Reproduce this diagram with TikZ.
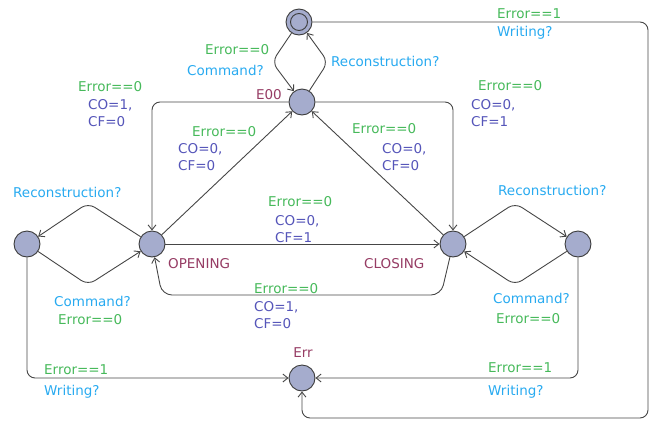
\documentclass[tikz,border=0pt]{standalone}
\usepackage{fontspec}
\setmainfont{DejaVu Sans}
\usetikzlibrary{arrows.meta}
\definecolor{guardc}{RGB}{70,185,90}
\definecolor{syncc}{RGB}{40,170,240}
\definecolor{assignc}{RGB}{85,85,185}
\definecolor{namec}{RGB}{150,60,100}
\definecolor{locfill}{RGB}{165,172,205}
\definecolor{locdraw}{RGB}{60,60,60}
\definecolor{edgec}{RGB}{70,70,70}
\tikzset{
  loc/.style={circle, draw=locdraw, fill=locfill, line width=0.9pt, minimum size=26pt, inner sep=0pt},
  initloc/.style={loc, path picture={\draw[locdraw, line width=0.9pt] (path picture bounding box.center) circle (8.5pt);}},
  lbl/.style={font=\fontsize{13.5}{17}\selectfont, inner sep=0pt, anchor=west, align=left},
  guard/.style={lbl, text=guardc},
  sync/.style={lbl, text=syncc},
  assign/.style={lbl, text=assignc},
  locname/.style={lbl, text=namec},
  arr/.style={-{Straight Barb[length=5pt, width=8pt]}, line width=0.9pt, edgec, rounded corners=8pt},
}

\begin{document}
\begin{tikzpicture}[x=1pt, y=-1pt]
\useasboundingbox (0,0) rectangle (656,421);
% locations
\node[initloc] (init) at (299,22) {};
\node[loc] (e00) at (302,102) {};
\node[loc] (opening) at (152,244) {};
\node[loc] (closing) at (453,244) {};
\node[loc] (wleft) at (27,244) {};
\node[loc] (wright) at (578,244) {};
\node[loc] (err) at (302,378) {};
% location names
\node[locname, anchor=east] (n1) at (282,95) {E00};
\node[locname] (n2) at (168,264) {OPENING};
\node[locname] (n3) at (364,264) {CLOSING};
\node[locname, anchor=center] (n4) at (303,353) {Err};
% init <-> E00
\draw[arr] (init) -- (272,62) -- (e00);
\draw[arr] (e00) -- (328,62) -- (init);
\node[guard] (g1) at (205,50) {Error==0};
\node[sync] (s1) at (187,70) {Command?};
\node[sync] (s2) at (331,61) {Reconstruction?};
% E00 -> OPENING / CLOSING
\draw[arr] (e00) -| (opening);
\draw[arr] (e00) -| (closing);
\node[guard] (g2) at (78,87) {Error==0};
\node[assign] (a2) at (88,113) {CO=1,\\CF=0};
\node[guard] (g3) at (478,86) {Error==0};
\node[assign] (a3) at (471,113) {CO=0,\\CF=1};
% OPENING / CLOSING -> E00
\draw[arr, rounded corners=0pt] (opening) -- (e00);
\draw[arr, rounded corners=0pt] (closing) -- (e00);
\node[guard] (g4) at (192,132) {Error==0};
\node[assign] (a4) at (178,157.5) {CO=0,\\CF=0};
\node[guard] (g5) at (352,129) {Error==0};
\node[assign] (a5) at (382,157.5) {CO=0,\\CF=0};
% OPENING <-> CLOSING
\draw[arr] (opening) -- (closing);
\draw[arr, rounded corners=10pt] (closing) -- (441,295) -- (162,295) -- (opening);
\node[guard] (g6) at (268,202) {Error==0};
\node[assign] (a6) at (275,229) {CO=0,\\CF=1};
\node[guard] (g7) at (254,289) {Error==0};
\node[assign] (a7) at (254,315) {CO=1,\\CF=0};
% side loops
\draw[arr] (opening) -- (88,203) -- (wleft);
\draw[arr] (wleft) -- (88,285) -- (opening);
\node[sync] (s8) at (13,192) {Reconstruction?};
\node[sync] (s9) at (54,301) {Command?};
\node[guard] (g9) at (58,320) {Error==0};
\draw[arr] (closing) -- (515,203) -- (wright);
\draw[arr] (wright) -- (515,285) -- (closing);
\node[sync] (s10) at (498,190) {Reconstruction?};
\node[sync] (s11) at (493,298) {Command?};
\node[guard] (g11) at (496,319) {Error==0};
% error edges
\draw[arr] (wleft) |- (err);
\draw[arr] (wright) |- (err);
\draw[arr] (init) -| (648,418) -| (err);
\node[guard] (g12) at (44,370) {Error==1};
\node[sync] (s12) at (44,392) {Writing?};
\node[guard] (g13) at (488,368) {Error==1};
\node[sync] (s13) at (488,392) {Writing?};
\node[guard] (g14) at (497,14) {Error==1};
\node[sync] (s14) at (497,33) {Writing?};
\end{tikzpicture}
\end{document}
